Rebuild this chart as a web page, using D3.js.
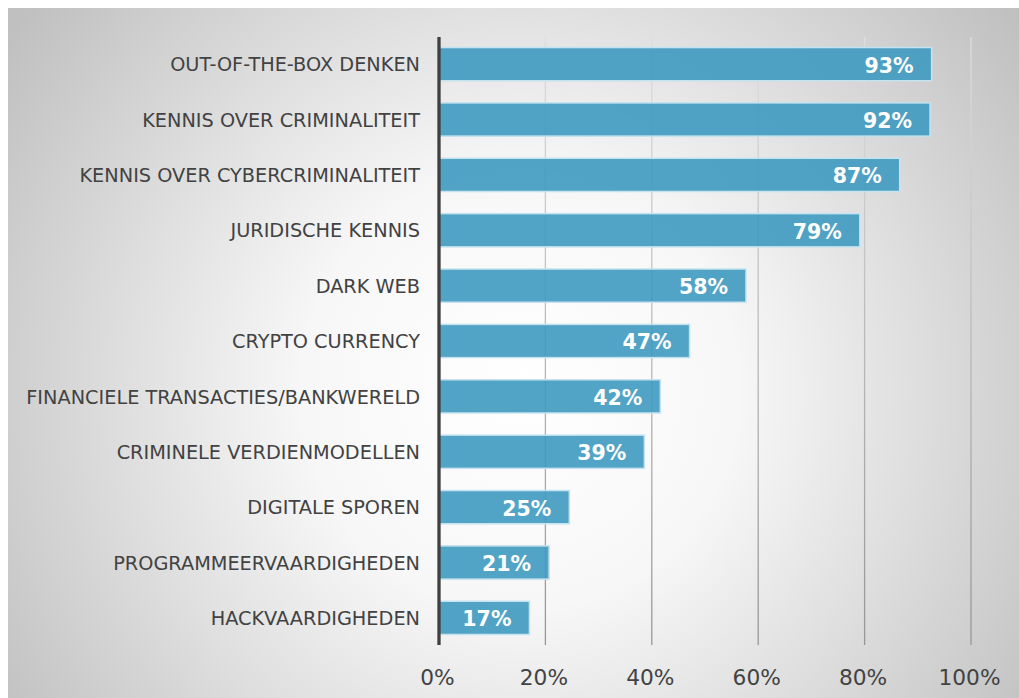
<!DOCTYPE html>
<html><head><meta charset="utf-8">
<script src="https://cdn.jsdelivr.net/npm/d3@7"></script>
<style>body{margin:0;background:#fff;}svg{display:block;}</style>
</head><body>
<svg id="c" width="1019" height="698"></svg>
<script>
const categories = ["OUT-OF-THE-BOX DENKEN","KENNIS OVER CRIMINALITEIT","KENNIS OVER CYBERCRIMINALITEIT","JURIDISCHE KENNIS","DARK WEB","CRYPTO CURRENCY","FINANCIELE TRANSACTIES/BANKWERELD","CRIMINELE VERDIENMODELLEN","DIGITALE SPOREN","PROGRAMMEERVAARDIGHEDEN","HACKVAARDIGHEDEN"];
const values = [92.6,92.3,86.6,79.1,57.7,47.1,41.6,38.6,24.5,20.7,17.0];
const valueLabels = ["93%","92%","87%","79%","58%","47%","42%","39%","25%","21%","17%"];
const tickValues = [0,20,40,60,80,100];

const svg = d3.select("#c");
const defs = svg.append("defs");
const rg = defs.append("radialGradient").attr("id","bg").attr("gradientUnits","userSpaceOnUse")
  .attr("cx",520).attr("cy",390).attr("r",620);
rg.append("stop").attr("offset","0").attr("stop-color","#ffffff");
rg.append("stop").attr("offset","0.35").attr("stop-color","#f7f7f7");
rg.append("stop").attr("offset","1").attr("stop-color","#c0c0c0");
const lg = defs.append("linearGradient").attr("id","grid").attr("gradientUnits","userSpaceOnUse")
  .attr("x1",0).attr("y1",37).attr("x2",0).attr("y2",645);
lg.append("stop").attr("offset","0").attr("stop-color","#dedede");
lg.append("stop").attr("offset","1").attr("stop-color","#969696");

svg.append("rect").attr("x",8).attr("y",8).attr("width",1011).attr("height",690).attr("fill","url(#bg)");

const x = d3.scaleLinear().domain([0,100]).range([439,971]);
const y = d3.scaleBand().domain(categories).range([37,645]).paddingInner(0.4).paddingOuter(0.19);

// gridlines
svg.append("g").selectAll("line").data(tickValues.filter(d=>d>0)).join("line")
  .attr("x1",d=>x(d)).attr("x2",d=>x(d)).attr("y1",37).attr("y2",645)
  .attr("stroke","url(#grid)").attr("stroke-width",1.3);

// bars
svg.append("g").selectAll("rect").data(values).join("rect")
  .attr("x",x(0)).attr("y",(d,i)=>y(categories[i]))
  .attr("width",d=>x(d)-x(0)).attr("height",y.bandwidth())
  .attr("fill","#3f9ac0").attr("fill-opacity",0.9)
  .attr("stroke","#c4e2ef").attr("stroke-width",1.5);

// value labels
svg.append("g").selectAll("text").data(values).join("text")
  .attr("x",d=>x(d)-18).attr("y",(d,i)=>y(categories[i])+y.bandwidth()/2+1)
  .attr("dy","0.36em").attr("text-anchor","end")
  .attr("font-family","DejaVu Sans").attr("font-weight","bold").attr("font-size",20.5)
  .attr("fill","#ffffff").text((d,i)=>valueLabels[i]);

// category axis
const ya = svg.append("g").attr("transform",`translate(${x(0)},1)`)
  .call(d3.axisLeft(y).tickSize(0).tickPadding(19));
ya.select(".domain").remove();
ya.selectAll("text").attr("font-family","DejaVu Sans").attr("font-size",19.3).attr("fill","#424242");

// value axis labels
const xa = svg.append("g").attr("transform","translate(-2,650)")
  .call(d3.axisBottom(x).tickValues(tickValues).tickFormat(d=>d+"%").tickSize(0).tickPadding(20));
xa.select(".domain").remove();
xa.selectAll("text").attr("font-family","DejaVu Sans").attr("font-size",21.7).attr("fill","#424242");

// zero axis line
svg.append("line").attr("x1",x(0)).attr("x2",x(0)).attr("y1",37).attr("y2",645)
  .attr("stroke","#404040").attr("stroke-width",3.3);
</script>
</body></html>
